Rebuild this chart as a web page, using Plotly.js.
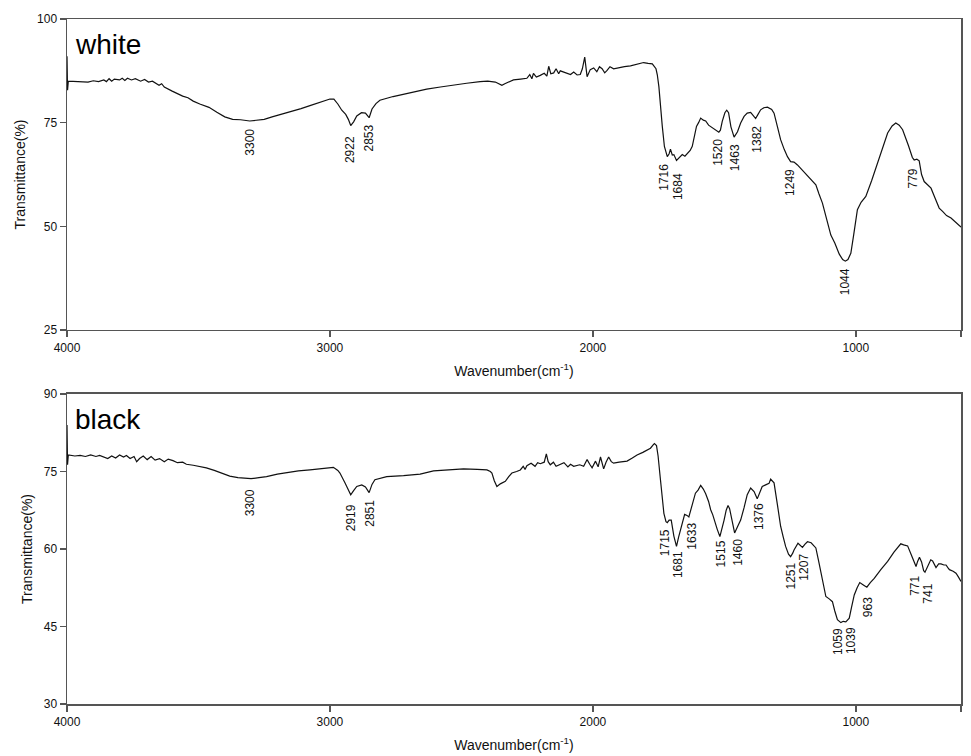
<!DOCTYPE html>
<html>
<head>
<meta charset="utf-8">
<script src="https://cdn.plot.ly/plotly-3.0.1.min.js"></script>
<style>html,body{margin:0;padding:0;background:#fff;}#chart{width:971px;height:756px;}</style>
</head>
<body>
<div id="chart"></div>
<script>
// ---- white sample spectrum ----
const whiteWn = [4000,3998,3995,3960,3920,3900,3880,3860,3850,3840,3830,3820,3800,3790,3780,3770,3755,3740,3720,3705,3690,3675,3660,3650,3640,3630,3600,3580,3560,3540,3520,3495,3460,3430,3400,3370,3340,3305,3280,3250,3220,3190,3165,3140,3110,3076,3050,3020,3000,2985,2970,2955,2940,2930,2921,2910,2898,2880,2865,2851,2840,2825,2810,2760,2721,2680,2632,2580,2530,2480,2429,2400,2371,2355,2346,2335,2320,2302,2275,2251,2240,2232,2226,2215,2200,2185,2175,2168,2160,2149,2140,2130,2124,2100,2085,2073,2060,2048,2040,2031,2025,2022,2010,1997,1985,1975,1965,1955,1946,1935,1921,1900,1880,1857,1830,1807,1790,1774,1760,1755,1749,1742,1736,1728,1717,1710,1705,1698,1692,1682,1670,1660,1650,1641,1630,1622,1614,1606,1598,1590,1580,1571,1560,1546,1535,1521,1515,1508,1498,1491,1484,1475,1463,1450,1438,1425,1413,1400,1390,1381,1372,1362,1350,1336,1320,1311,1298,1286,1272,1260,1248,1235,1222,1210,1180,1152,1140,1127,1110,1095,1080,1063,1050,1040,1030,1019,1008,994,980,962,940,917,898,879,862,848,835,822,800,785,778,768,759,750,740,725,714,700,683,670,655,638,620,600];
const whiteT = [91.0,82.8,85.0,84.9,84.8,85.1,84.9,85.3,84.9,85.6,85.0,85.5,85.3,85.7,85.2,85.7,85.3,85.6,85.0,85.4,84.8,85.0,84.3,84.0,84.4,83.6,82.6,81.9,81.4,81.0,80.2,79.5,78.7,77.5,76.4,75.8,75.7,75.4,75.6,75.8,76.4,76.9,77.3,77.9,78.4,79.1,79.7,80.3,80.7,80.7,79.5,78.0,77.0,75.8,74.3,75.2,76.6,77.4,77.3,76.2,78.3,79.6,80.4,81.3,81.9,82.5,83.1,83.6,84.1,84.5,84.9,85.0,84.8,84.3,84.0,84.4,84.9,85.3,85.5,85.7,86.6,85.6,86.9,86.0,86.4,86.9,86.2,88.6,86.8,87.0,88.0,86.8,87.5,87.0,86.6,87.2,86.5,86.6,88.0,90.8,87.0,86.1,87.8,88.2,87.3,88.5,88.0,87.0,87.6,88.5,88.0,88.3,88.5,88.7,89.1,89.5,89.3,89.2,88.0,86.55,83.7,78.0,74.1,69.25,66.8,67.5,68.6,67.2,67.3,65.9,66.8,67.3,66.9,67.6,68.3,69.3,71.5,74.1,75.0,76.1,75.6,75.4,74.4,73.8,73.3,72.7,73.2,75.3,77.4,78.0,77.4,74.0,71.5,72.8,74.9,76.5,77.3,77.5,76.7,76.0,77.0,78.1,78.6,78.75,78.2,77.3,74.0,70.9,68.5,66.8,65.6,65.5,64.8,64.0,62.0,60.0,57.8,55.6,51.5,47.9,46.0,43.3,42.0,41.6,42.0,43.5,48.0,54.0,55.8,57.2,61.0,65.2,69.0,72.5,74.2,74.9,74.4,73.3,69.5,66.6,66.0,66.2,65.8,62.5,60.8,60.0,59.2,57.0,54.4,53.6,52.6,52.0,51.0,49.8];

// ---- black sample spectrum ----
const blackWn = [4000,3998,3995,3970,3950,3930,3910,3890,3876,3860,3845,3830,3815,3800,3785,3774,3760,3745,3735,3724,3710,3695,3680,3665,3648,3630,3615,3597,3580,3560,3546,3520,3490,3470,3440,3410,3381,3350,3320,3300,3270,3241,3200,3165,3120,3076,3040,3000,2987,2970,2962,2943,2930,2921,2910,2898,2879,2865,2851,2840,2829,2784,2720,2657,2606,2550,2492,2440,2403,2390,2384,2375,2365,2352,2340,2333,2320,2308,2290,2276,2265,2258,2251,2235,2220,2210,2200,2185,2177,2170,2162,2150,2140,2124,2110,2095,2085,2073,2050,2035,2022,2012,2003,1990,1980,1971,1965,1959,1950,1940,1930,1921,1900,1870,1850,1832,1810,1794,1781,1770,1766,1758,1752,1743,1736,1730,1722,1717,1710,1702,1692,1682,1674,1667,1658,1651,1642,1635,1622,1610,1600,1590,1580,1571,1560,1552,1544,1537,1527,1517,1508,1501,1493,1486,1480,1474,1467,1461,1450,1438,1425,1413,1400,1387,1375,1365,1356,1343,1330,1324,1311,1298,1286,1276,1267,1256,1248,1240,1235,1220,1210,1203,1194,1184,1170,1152,1142,1133,1122,1114,1100,1089,1080,1070,1057,1048,1038,1025,1016,1006,995,985,970,958,945,930,905,879,855,840,829,818,803,790,778,771,765,758,750,742,737,725,715,708,700,695,685,676,665,657,650,644,630,619,610,600];
const blackT = [84.0,76.3,78.2,78.0,78.1,77.9,78.2,77.9,78.1,77.8,77.5,78.0,77.6,78.2,77.8,78.1,77.5,77.9,76.9,77.5,78.0,77.3,77.9,77.2,77.5,76.9,77.4,77.1,76.7,76.8,76.4,76.2,75.9,75.7,75.2,74.6,74.1,73.8,73.6,73.6,73.8,74.0,74.5,74.8,75.1,75.3,75.5,75.85,75.8,75.2,74.7,72.8,71.3,70.5,71.3,72.1,72.4,72.0,70.9,72.5,73.4,74.0,74.2,74.5,75.1,75.3,75.5,75.4,75.3,75.0,74.7,73.2,72.1,72.6,72.9,73.1,74.0,74.7,75.0,75.3,76.0,75.4,76.1,76.6,76.0,76.7,76.5,76.8,78.4,76.9,76.3,76.8,76.0,76.3,76.7,75.9,76.4,76.0,76.3,76.0,77.3,76.4,75.7,77.0,75.9,77.8,76.5,75.5,76.8,77.8,76.9,76.6,76.8,77.0,77.6,78.2,78.7,79.2,79.5,80.2,80.4,80.0,78.0,73.4,69.5,66.9,65.3,65.1,65.6,65.6,62.5,60.5,62.3,63.7,65.5,66.7,66.5,66.2,68.6,70.8,71.4,72.3,71.6,70.7,69.2,67.6,66.6,65.3,63.8,62.4,64.0,65.6,67.5,68.4,67.8,66.3,64.5,63.1,64.3,65.6,68.0,70.5,71.8,71.1,69.7,71.2,72.1,72.4,72.7,73.5,72.8,68.5,64.4,62.3,60.5,59.0,58.5,59.2,59.8,61.1,60.6,60.3,60.9,61.4,61.2,60.2,57.8,55.3,52.4,50.8,50.3,49.8,48.0,46.3,45.75,46.0,45.9,46.6,48.8,51.1,52.5,53.5,53.0,52.6,53.5,54.3,56.0,57.6,59.4,60.4,61.0,60.8,60.6,59.0,57.3,56.6,57.6,58.4,57.5,55.8,55.5,56.7,57.9,57.7,56.8,56.4,57.1,57.1,56.9,56.9,56.4,56.0,55.7,55.3,54.6,53.7];

// ---- peak labels ----
const whitePeakText = ['3300','2922','2853','1716','1684','1520','1463','1382','1249','1044','779'];
const whitePeakX    = [3302,2921,2851,1728,1677,1522,1457,1374,1248,1038,784];
const whitePeakTop  = [73.8,72.05,74.7,65.3,63.15,71.35,70.1,74.5,64.1,40.2,64.1];

const blackPeakText = ['3300','2919','2851','1715','1681','1633','1515','1460','1376','1251','1207','1059','1039','963','771','741'];
const blackPeakX    = [3305,2917,2848,1728,1678,1621,1512,1451,1368,1248,1197,1067,1016,955,775,729];
const blackPeakTop  = [71.8,68.9,69.8,64.0,59.8,65.3,61.8,62.1,69.0,57.6,59.2,44.85,45.1,50.8,55.0,53.5];

const xTicks = [4000,3000,2000,1000,600];
const whiteYTicks = [25,50,75,100];
const blackYTicks = [30,45,60,75,90];

const FONT = 'Liberation Sans, Arial, sans-serif';
const axColor = '#555555';

const traces = [
  {x: whiteWn, y: whiteT, type: 'scatter', mode: 'lines', xaxis: 'x', yaxis: 'y',
   line: {color: '#111111', width: 1.2}, hoverinfo: 'skip', showlegend: false},
  {x: blackWn, y: blackT, type: 'scatter', mode: 'lines', xaxis: 'x2', yaxis: 'y2',
   line: {color: '#111111', width: 1.2}, hoverinfo: 'skip', showlegend: false}
];

function xAxis(anchor) {
  return {
    anchor: anchor, domain: [0, 1], range: [4000, 600], autorange: false,
    tickvals: xTicks, ticktext: xTicks.map(String), ticks: 'outside', ticklen: 6,
    tickwidth: 1.5, tickcolor: axColor, showline: true, mirror: true,
    linecolor: axColor, linewidth: 1.5, showgrid: false, zeroline: false,
    tickfont: {family: FONT, size: 12, color: '#111'},
    title: {text: 'Wavenumber(cm<sup>-1</sup>)', font: {family: FONT, size: 14, color: '#111'}, standoff: 12}
  };
}
function yAxis(anchor, domain, range, ticks) {
  return {
    anchor: anchor, domain: domain, range: range, autorange: false,
    tickvals: ticks, ticks: 'outside', ticklen: 6, tickwidth: 1.5, tickcolor: axColor,
    showline: true, mirror: true, linecolor: axColor, linewidth: 1.5,
    showgrid: false, zeroline: false,
    tickfont: {family: FONT, size: 12, color: '#111'},
    title: {text: 'Transmittance(%)', font: {family: FONT, size: 14, color: '#111'}, standoff: 8}
  };
}

const annotations = [];
function addPeaks(texts, xs, tops, xref, yref) {
  for (let i = 0; i < texts.length; i++) {
    annotations.push({
      text: texts[i], x: xs[i], y: tops[i], xref: xref, yref: yref,
      xanchor: 'center', yanchor: 'top', textangle: -90, showarrow: false,
      font: {family: FONT, size: 12, color: '#111'}, borderpad: 0
    });
  }
}
addPeaks(whitePeakText, whitePeakX, whitePeakTop, 'x', 'y');
addPeaks(blackPeakText, blackPeakX, blackPeakTop, 'x2', 'y2');

annotations.push({text: 'white', xref: 'x domain', yref: 'y domain', x: 0, y: 1,
  xanchor: 'left', yanchor: 'top', xshift: 6, yshift: -8, showarrow: false,
  font: {family: FONT, size: 28, color: '#000'}});
annotations.push({text: 'black', xref: 'x2 domain', yref: 'y2 domain', x: 0, y: 1,
  xanchor: 'left', yanchor: 'top', xshift: 6, yshift: -8, showarrow: false,
  font: {family: FONT, size: 28, color: '#000'}});

const layout = {
  width: 971, height: 756,
  margin: {l: 67, r: 10, t: 19, b: 52},
  paper_bgcolor: '#ffffff', plot_bgcolor: '#ffffff',
  showlegend: false,
  xaxis: xAxis('y'),
  yaxis: yAxis('x', [0.546, 1], [25, 100], whiteYTicks),
  xaxis2: xAxis('y2'),
  yaxis2: yAxis('x2', [0, 0.4526], [30, 90], blackYTicks),
  annotations: annotations
};

Plotly.newPlot('chart', traces, layout, {displayModeBar: false, staticPlot: true});
</script>
</body>
</html>
